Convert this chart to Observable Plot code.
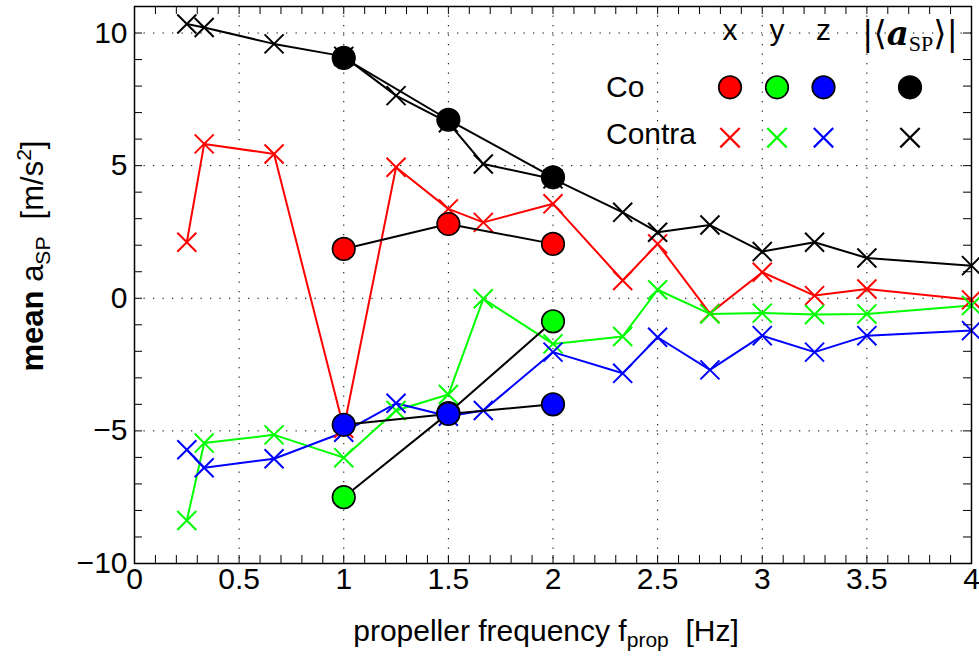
<!DOCTYPE html>
<html><head><meta charset="utf-8">
<script src="https://cdn.jsdelivr.net/npm/d3@7"></script>
<script src="https://cdn.jsdelivr.net/npm/@observablehq/plot@0.6"></script>
<style>
body{margin:0;background:#fff}
#chart{position:relative;width:979px;height:661px}
</style>
</head><body><div id="chart"></div>
<script>
// ---- data ----
const freqContra = [0.25, 0.333, 0.667, 1.0, 1.25, 1.5, 1.667, 2.0, 2.333, 2.5, 2.75, 3.0, 3.25, 3.5, 4.0];
const contraX   = [2.11, 5.82, 5.44, -4.90, 4.94, 3.37, 2.86, 3.56, 0.67, 2.05, -0.57, 0.98, 0.10, 0.35, -0.06];
const contraY   = [-8.38, -5.46, -5.15, -6.01, -4.23, -3.63, -0.02, -1.72, -1.44, 0.32, -0.59, -0.56, -0.61, -0.59, -0.27];
const contraZ   = [-5.71, -6.39, -6.05, -5.05, -3.96, -4.45, -4.23, -2.03, -2.83, -1.47, -2.70, -1.41, -2.03, -1.41, -1.22];
const contraAbs = [10.34, 10.21, 9.59, 9.12, 7.64, 6.62, 5.06, 4.50, 3.24, 2.49, 2.76, 1.76, 2.11, 1.52, 1.23];

const freqCo = [1.0, 1.5, 2.0];
const coX   = [1.86, 2.80, 2.05];
const coY   = [-7.50, -4.33, -0.87];
const coZ   = [-4.77, -4.36, -4.00];
const coAbs = [9.06, 6.73, 4.56];

const componentNames = ["x", "y", "z", "abs"];
const componentColors = ["#ff0000", "#00ff00", "#0000ff", "#000000"];

const xTickValues = [0, 0.5, 1, 1.5, 2, 2.5, 3, 3.5, 4];
const yTickValues = [-10, -5, 0, 5, 10];
const xGridValues = [0.5, 1, 1.5, 2, 2.5, 3, 3.5];
const yGridValues = [-5, 0, 5, 10];

// ---- layout ----
const W = 979, H = 661;
const mL = 134, mR = 8, mT = 6, mB = 98;
const PW = W - mL - mR, PH = H - mT - mB;
const TICK = 8;
const FONT = "Liberation Sans, Arimo, Helvetica, Arial, sans-serif";

const contraSeries = [contraX, contraY, contraZ, contraAbs].map((vals, i) =>
  vals.map((v, j) => ({f: freqContra[j], v, c: componentNames[i]})));
const coSeries = [coX, coY, coZ, coAbs].map((vals, i) =>
  vals.map((v, j) => ({f: freqCo[j], v, c: componentNames[i]})));

const xMinor = d3.range(0, 40.5, 1).map(d => d / 10);
const yMinor = d3.range(-10, 11.5, 1);
const fmt = d => d < 0 ? "\u2212" + (-d) : String(d);

const marks = [
  Plot.ruleX(xGridValues, {x: d => d, stroke: "#000", strokeWidth: 1, strokeDasharray: "1.3,8.2"}),
  Plot.ruleY(yGridValues, {y: d => d, stroke: "#000", strokeWidth: 1, strokeDasharray: "1.3,8.2"}),
  Plot.tickX(xMinor, {x: d => d, insetTop: PH - TICK, stroke: "#000", strokeWidth: 1}),
  Plot.tickX(xMinor, {x: d => d, insetBottom: PH - TICK, stroke: "#000", strokeWidth: 1}),
  Plot.tickY(yMinor, {y: d => d, insetRight: PW - TICK, stroke: "#000", strokeWidth: 1}),
  Plot.tickY(yMinor, {y: d => d, insetLeft: PW - TICK, stroke: "#000", strokeWidth: 1}),
  Plot.axisX(xTickValues, {anchor: "bottom", tickSize: 0, tickPadding: 4, label: null, tickFormat: fmt, fontSize: 30, fill: "#000"}),
  Plot.axisY(yTickValues, {anchor: "left", tickSize: 0, tickPadding: 7, label: null, tickFormat: fmt, fontSize: 30, fill: "#000"}),
];
contraSeries.forEach((s, i) => {
  marks.push(Plot.line(s, {x: "f", y: "v", stroke: componentColors[i], strokeWidth: 2}));
});
contraSeries.forEach((s, i) => {
  marks.push(Plot.dot(s, {x: "f", y: "v", symbol: "times", r: 8.7, stroke: componentColors[i], strokeWidth: 2}));
});
coSeries.forEach((s) => {
  marks.push(Plot.line(s, {x: "f", y: "v", stroke: "#000", strokeWidth: 2}));
});
coSeries.forEach((s, i) => {
  marks.push(Plot.dot(s, {x: "f", y: "v", r: 11.3, fill: componentColors[i], stroke: "#000", strokeWidth: 1.6}));
});
marks.push(Plot.frame({stroke: "#000", strokeWidth: 1.5}));

const chart = Plot.plot({
  width: W, height: H,
  marginLeft: mL, marginRight: mR, marginTop: mT, marginBottom: mB,
  x: {domain: [0, 4]},
  y: {domain: [-10, 11]},
  style: {fontFamily: FONT, fontSize: "29px", background: "#fff", color: "#000"},
  marks
});
document.getElementById("chart").appendChild(chart);

// ---- axis labels & legend ----
const svg = d3.select(chart);

const xl = svg.append("text")
  .attr("x", 546).attr("y", 641)
  .attr("text-anchor", "middle")
  .style("font-family", FONT).style("font-size", "30px").attr("fill", "#000");
xl.append("tspan").text("propeller frequency f");
xl.append("tspan").attr("dy", 6).style("font-size", "21px").text("prop");
xl.append("tspan").attr("dy", -6).text("\u00A0\u00A0[Hz]");

const yl = svg.append("text")
  .attr("transform", `translate(43,256) rotate(-90)`)
  .attr("text-anchor", "middle")
  .style("font-family", FONT).style("font-size", "31px").attr("fill", "#000");
yl.append("tspan").style("font-weight", "bold").text("mean");
yl.append("tspan").text(" a");
yl.append("tspan").attr("dy", 7).style("font-size", "21px").text("SP");
yl.append("tspan").attr("dy", -7).text("\u00A0\u00A0[m/s");
yl.append("tspan").attr("dy", -12).style("font-size", "21px").text("2");
yl.append("tspan").attr("dy", 12).text("]");

const leg = svg.append("g").attr("text-anchor", "start");
const colX = [730, 777, 823.5, 910];
["x", "y", "z"].forEach((t, i) => {
  leg.append("text").attr("x", colX[i]).attr("y", 39.5).attr("text-anchor", "middle")
    .style("font-family", FONT).style("font-size", "30px").attr("fill", "#000").text(t);
});
const mag = leg.append("text").attr("x", 910).attr("y", 45).attr("text-anchor", "middle")
  .style("font-family", "DejaVu Serif, Liberation Serif, serif").style("font-size", "34px").attr("fill", "#000");
mag.append("tspan").style("font-weight", "300").text("|\u27E8");
mag.append("tspan").style("font-weight", "bold").style("font-style", "italic").text("a");
mag.append("tspan").attr("dy", 6).style("font-size", "22px").style("font-family", "Liberation Serif, serif").text("SP");
mag.append("tspan").attr("dy", -6).text("\u27E9|");

leg.append("text").attr("x", 606).attr("y", 97).attr("text-anchor", "start")
  .style("font-family", FONT).style("font-size", "30px").attr("fill", "#000").text("Co");
leg.append("text").attr("x", 606).attr("y", 143.5).attr("text-anchor", "start")
  .style("font-family", FONT).style("font-size", "30px").attr("fill", "#000").text("Contra");

componentColors.forEach((col, i) => {
  leg.append("circle").attr("cx", colX[i]).attr("cy", 87.3).attr("r", 11.3)
    .attr("fill", col).attr("stroke", "#000").attr("stroke-width", 1.6);
  leg.append("path").attr("transform", `translate(${colX[i]},137.7)`)
    .attr("d", d3.symbol(d3.symbolTimes, 247)())
    .attr("fill", "none").attr("stroke", col).attr("stroke-width", 2.2);
});
</script>
</body></html>
